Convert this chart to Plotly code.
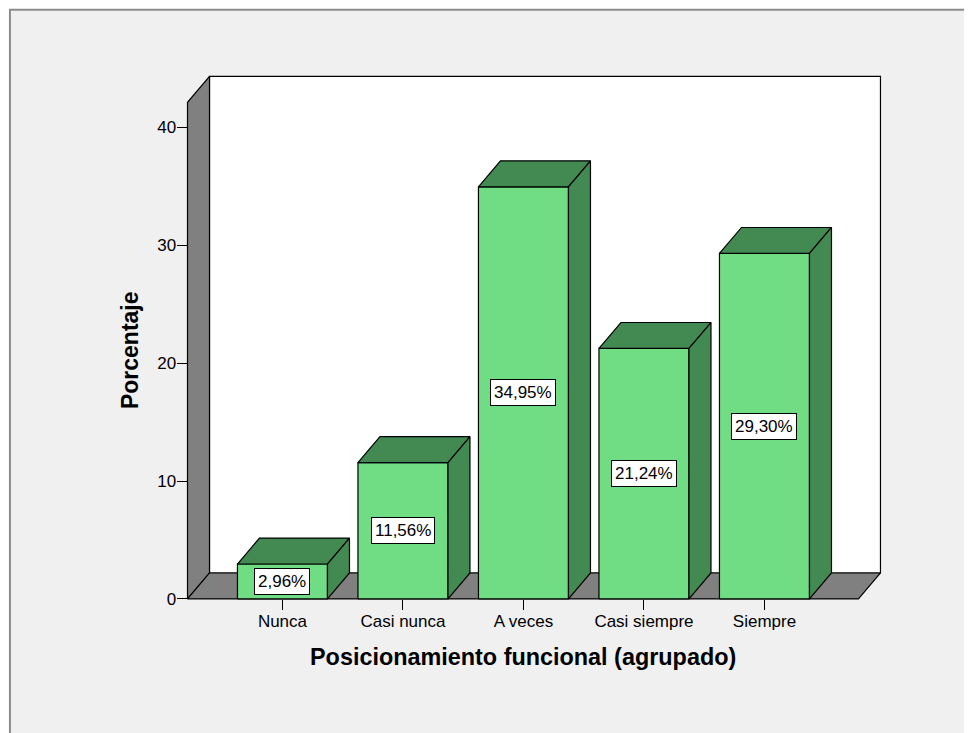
import plotly.graph_objects as go

# ---- data ----
categories = ["Nunca", "Casi nunca", "A veces", "Casi siempre", "Siempre"]
percentages = [2.96, 11.56, 34.95, 21.24, 29.30]
y_tick_values = [0, 10, 20, 30, 40]
x_title = "Posicionamiento funcional (agrupado)"
y_title = "Porcentaje"

# ---- styling / geometry (in data units) ----
BAR_W = 0.747
DEPTH_X = 0.1826
DEPTH_Y = 2.2
FLOOR_X0 = -0.788
FLOOR_X1 = 4.780
WALL_TOP = 42.12
FRONT = "#70DC84"
DARK = "#438A52"
GRAY = "#808080"
EDGE = dict(color="black", width=1.2)
FONT = "Liberation Sans, Arial, sans-serif"

# figure placed inside the page body (8px default margin)
W, H = 964, 725
X_PX0, X_SCALE = 274, 120.5
Y_PX0, Y_SCALE = 591, 11.8
xr = [-0.9, 5.05]
yr = [-0.6, 44.6]
left = X_PX0 + xr[0] * X_SCALE
plot_w = (xr[1] - xr[0]) * X_SCALE
right = W - left - plot_w
top = Y_PX0 - yr[1] * Y_SCALE
plot_h = (yr[1] - yr[0]) * Y_SCALE
bottom = H - top - plot_h


def poly(xs, ys, fill):
    return go.Scatter(x=xs + [xs[0]], y=ys + [ys[0]], mode="lines", fill="toself",
                      fillcolor=fill, line=EDGE, hoverinfo="skip", showlegend=False)


fig = go.Figure()
# back wall
fig.add_trace(poly([FLOOR_X0 + DEPTH_X, FLOOR_X1 + DEPTH_X, FLOOR_X1 + DEPTH_X, FLOOR_X0 + DEPTH_X],
                   [DEPTH_Y, DEPTH_Y, WALL_TOP + DEPTH_Y, WALL_TOP + DEPTH_Y], "white"))
# left wall
fig.add_trace(poly([FLOOR_X0, FLOOR_X0, FLOOR_X0 + DEPTH_X, FLOOR_X0 + DEPTH_X],
                   [0, WALL_TOP, WALL_TOP + DEPTH_Y, DEPTH_Y], GRAY))
# floor
fig.add_trace(poly([FLOOR_X0, FLOOR_X1, FLOOR_X1 + DEPTH_X, FLOOR_X0 + DEPTH_X],
                   [0, 0, DEPTH_Y, DEPTH_Y], GRAY))

# bars
for i, v in enumerate(percentages):
    xl, xh = i - BAR_W / 2, i + BAR_W / 2
    fig.add_trace(poly([xl, xh, xh, xl], [0, 0, v, v], FRONT))
    fig.add_trace(poly([xl, xh, xh + DEPTH_X, xl + DEPTH_X], [v, v, v + DEPTH_Y, v + DEPTH_Y], DARK))
    fig.add_trace(poly([xh, xh + DEPTH_X, xh + DEPTH_X, xh], [0, DEPTH_Y, v + DEPTH_Y, v], DARK))
    fig.add_annotation(x=i, y=v / 2, text=f"{v:.2f}".replace(".", ",") + "%", showarrow=False,
                       bgcolor="white", bordercolor="black", borderwidth=1, borderpad=3,
                       font=dict(family=FONT, size=17, color="black"))

# axis titles
fig.add_annotation(x=(FLOOR_X0 + FLOOR_X1) / 2, y=0, yshift=-58, yanchor="middle", text=x_title,
                   showarrow=False, font=dict(family=FONT, size=23.4, color="black", weight="bold"))
fig.add_annotation(x=FLOOR_X0, xshift=-58, y=WALL_TOP / 2, text=y_title, textangle=-90,
                   showarrow=False, font=dict(family=FONT, size=23, color="black", weight="bold"))

# outer frame
px = lambda p: (p - left) / plot_w
py = lambda p: (H - bottom - p) / plot_h
fig.add_shape(type="rect", xref="paper", yref="paper", x0=px(1.5), x1=px(990), y0=py(1.5), y1=py(750),
              fillcolor="#F0F0F0", line=dict(color="#8C8C8C", width=2), layer="below")

fig.update_layout(
    width=W, height=H,
    margin=dict(l=left, r=right, t=top, b=bottom, pad=0),
    paper_bgcolor="white", plot_bgcolor="rgba(0,0,0,0)",
    showlegend=False,
    xaxis=dict(range=xr, tickvals=list(range(len(categories))), ticktext=categories,
               ticks="outside", ticklen=10, tickcolor="black", tickwidth=1,
               showgrid=False, zeroline=False, showline=False, fixedrange=True,
               anchor="free", position=(0 - yr[0]) / (yr[1] - yr[0]),
               ticklabelstandoff=-3,
               tickfont=dict(family=FONT, size=17, color="black")),
    yaxis=dict(range=yr, tickvals=y_tick_values, ticks="outside", ticklen=10, tickcolor="black",
               tickwidth=1, showgrid=False, zeroline=False, showline=False, fixedrange=True,
               anchor="free", position=(FLOOR_X0 - xr[0]) / (xr[1] - xr[0]),
               ticklabelstandoff=-2,
               tickfont=dict(family=FONT, size=17, color="black")),
)

fig.write_html("out.html")
